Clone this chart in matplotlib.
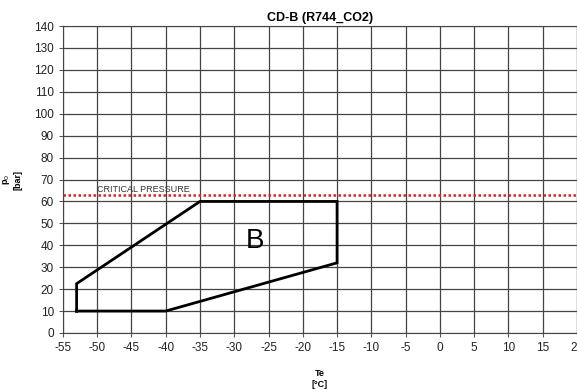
import numpy as np
import matplotlib.pyplot as plt

plt.rcParams['font.family'] = ['Liberation Sans', 'DejaVu Sans']
plt.rcParams['axes.unicode_minus'] = False

# Envelope B (Te [°C], p0 [bar])
te_b = [-53, -53, -35, -15, -15, -40, -53]
p0_b = [10, 22.5, 60, 60, 32, 10, 10]
p_critica = 63
x_ticks = list(range(-55, 25, 5))
y_ticks = list(range(0, 150, 10))

fig = plt.figure(figsize=(5.77, 3.89), dpi=100)
ax = fig.add_axes([0.109, 0.144, 0.891, 0.789])

ax.set_xlim(-55, 20)
ax.set_ylim(0, 140)
ax.set_xticks(x_ticks)
ax.set_yticks(y_ticks)
ax.tick_params(labelsize=8.5, length=3, color='#555555', labelcolor='#222222')
ax.grid(True, color='#444444', linewidth=0.9)
ax.set_axisbelow(True)
for s in ax.spines.values():
    s.set_color('#444444')

ax.plot(te_b, p0_b, color='black', linewidth=2, solid_joinstyle='miter', zorder=3)
ax.text(-27, 42, 'B', fontsize=20, fontweight='medium', ha='center', va='center', zorder=4)

ax.axhline(p_critica, color='#e02020', linestyle=(0, (1, 1)), linewidth=1.8, zorder=3)
ax.text(-50, p_critica + 0.3, 'CRITICAL PRESSURE', fontsize=6.5, color='#333333',
        va='bottom', zorder=4)

ax.set_title('CD-B (R744_CO2)', fontsize=9, fontweight='bold', pad=4)
ax.set_xlabel('Te\n[°C]', fontsize=6.5, fontweight='bold', labelpad=11)
ax.set_ylabel('p$_0$\n[bar]', fontsize=6.5, fontweight='bold', labelpad=8)

fig.savefig('out.png', dpi=100)
